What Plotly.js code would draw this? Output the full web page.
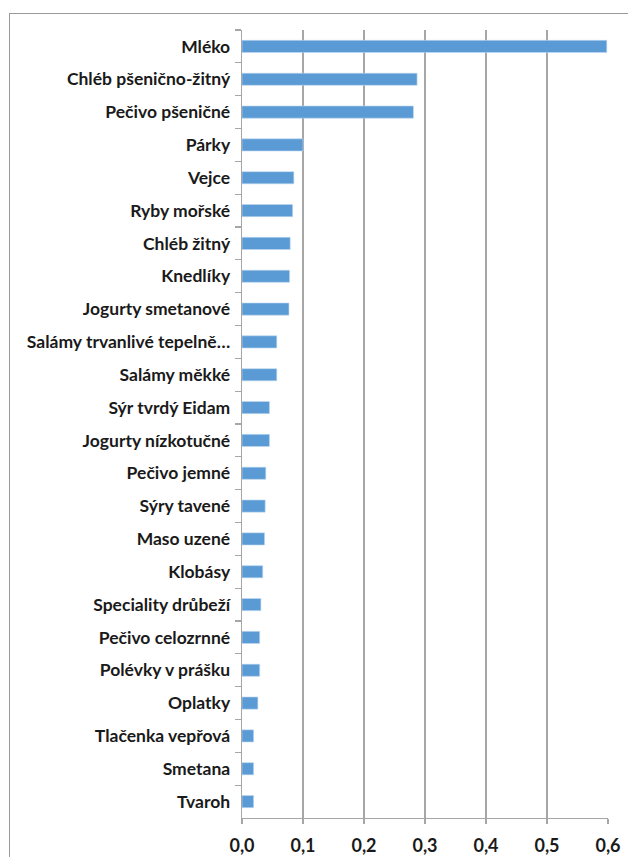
<!DOCTYPE html>
<html>
<head>
<meta charset="utf-8">
<script src="https://cdn.plot.ly/plotly-3.0.1.min.js"></script>
<style>
html,body{margin:0;padding:0;background:#fff;overflow:hidden;}
#frame{position:absolute;left:9px;top:13px;width:700px;height:900px;border-left:1.5px solid #9a9a9a;border-top:1.5px solid #9a9a9a;pointer-events:none;z-index:5;}
#chart{position:absolute;left:0;top:0;width:628px;height:857px;}
</style>
</head>
<body>
<div id="chart"></div>
<div id="frame"></div>
<script>
const categories = [
  "Mléko","Chléb pšenično-žitný","Pečivo pšeničné","Párky","Vejce","Ryby mořské",
  "Chléb žitný","Knedlíky","Jogurty smetanové","Salámy trvanlivé tepelně…","Salámy měkké",
  "Sýr tvrdý Eidam","Jogurty nízkotučné","Pečivo jemné","Sýry tavené","Maso uzené",
  "Klobásy","Speciality drůbeží","Pečivo celozrnné","Polévky v prášku","Oplatky",
  "Tlačenka vepřová","Smetana","Tvaroh"
];
const values = [
  0.598,0.287,0.281,0.100,0.085,0.083,
  0.079,0.078,0.077,0.057,0.057,
  0.045,0.045,0.039,0.038,0.037,
  0.034,0.031,0.029,0.029,0.026,
  0.019,0.019,0.019
];
const xTicks = [0,0.1,0.2,0.3,0.4,0.5,0.6];

const trace = {
  type:'bar', orientation:'h',
  x: values, y: categories,
  marker:{color:'#5b9bd5', line:{color:'#bdd7ee', width:0.6}},
  hoverinfo:'none'
};
const layout = {
  width:628, height:857,
  margin:{l:242, r:20, t:30, b:39, pad:0},
  paper_bgcolor:'#fff', plot_bgcolor:'#fff',
  separators:', ',
  bargap:0.63,
  showlegend:false,
  font:{family:'Lato, "Open Sans", sans-serif', color:'#1a1a1a'},
  xaxis:{
    range:[0,0.6], tickvals:xTicks, tickformat:'.1f',
    showgrid:true, gridcolor:'#a6a6a6', gridwidth:1.3,
    zeroline:false, showline:true, linecolor:'#a6a6a6', linewidth:1.3,
    ticks:'outside', ticklen:5, tickcolor:'#a6a6a6', tickwidth:1.3,
    tickfont:{size:18, family:'Lato, sans-serif', weight:'bold', color:'#1a1a1a'},
    ticklabelstandoff:6,
    fixedrange:true
  },
  yaxis:{
    autorange:'reversed', type:'category',
    showgrid:false, zeroline:false,
    showline:true, linecolor:'#a6a6a6', linewidth:1.3,
    ticks:'outside', tickson:'boundaries', ticklen:6, tickcolor:'#a6a6a6', tickwidth:1.3,
    tickfont:{size:17.5, family:'Lato, sans-serif', weight:'bold', color:'#1a1a1a'},
    ticklabelstandoff:7,
    fixedrange:true
  }
};
Plotly.newPlot('chart',[trace],layout,{staticPlot:true,displayModeBar:false});
</script>
</body>
</html>
